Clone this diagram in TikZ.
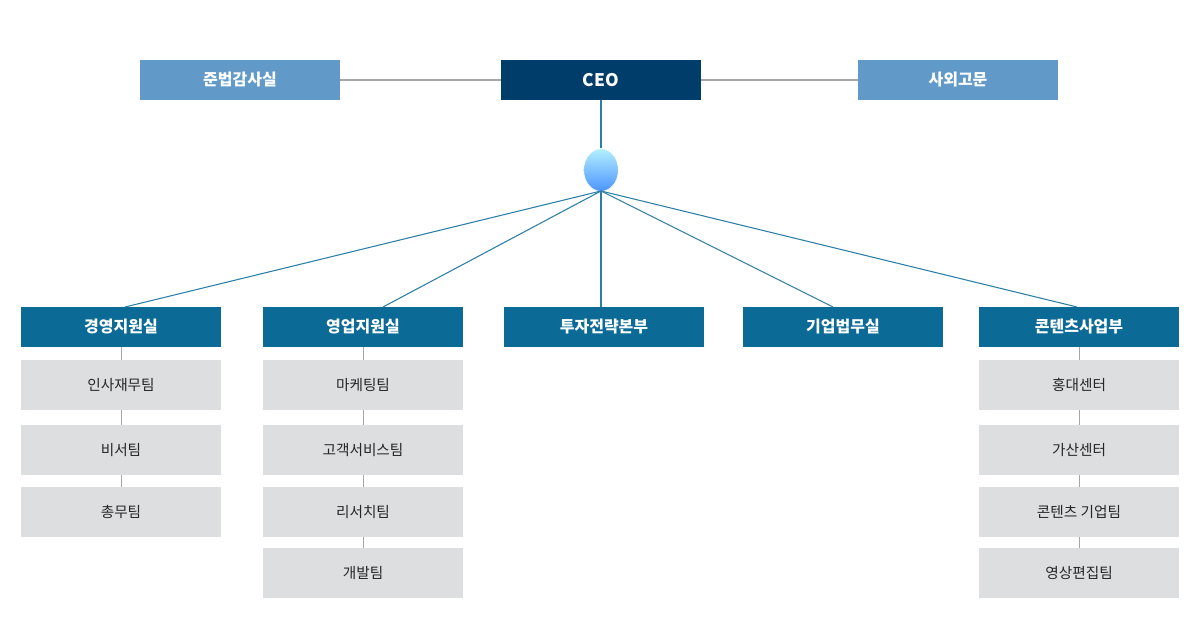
\documentclass[tikz,border=0pt]{standalone}
\usepackage{fontspec}
\setmainfont{Noto Sans CJK KR}
\usetikzlibrary{shapes.geometric}
\definecolor{lb}{HTML}{6199C9}
\definecolor{navy}{HTML}{003D6B}
\definecolor{teal}{HTML}{0B6A96}
\definecolor{gr}{HTML}{DCDEE0}
\definecolor{ln}{HTML}{2B7FA6}
\begin{document}
\begin{tikzpicture}[x=0.75pt,y=-0.75pt,
  top/.style={fill=lb,minimum width=150pt,minimum height=30pt,inner sep=0pt,text=white,font=\bfseries\fontsize{12}{12}\selectfont},
  dept/.style={fill=teal,minimum width=150pt,minimum height=30pt,inner sep=0pt,text=white,font=\bfseries\fontsize{12}{12}\selectfont},
  sub/.style={fill=gr,minimum width=150pt,minimum height=37.5pt,inner sep=0pt,text=black!85,font=\fontsize{11}{11}\selectfont},
  con/.style={ln,line width=0.8pt},
  vc/.style={gray!70,line width=0.6pt}]
\useasboundingbox (0,0) rectangle (1200,638);
\node[top] (jb) at (240,80) {준법감사실};
\node[top,fill=navy,font=\bfseries\fontsize{13}{13}\selectfont] (ceo) at (601,80) {CEO};
\node[top] (sw) at (958,80) {사외고문};
\draw[gray!70,line width=0.8pt] (jb) -- (ceo) -- (sw);
\node[ellipse,minimum width=26pt,minimum height=32pt,inner sep=0pt,top color=blue!20!cyan!30,bottom color=blue!60!cyan!70,draw=white] (hub) at (601,170) {};
\draw[con] (ceo) -- (hub);
\coordinate (hb) at (601,191);
\foreach \n/\x/\t/\tx in {d1/121/경영지원실/125, d2/363/영업지원실/383, d3/604/투자전략본부/601, d4/843/기업법무실/833, d5/1079/콘텐츠사업부/1077}{
  \node[dept] (\n) at (\x,327) {\t};
  \coordinate (\n t) at (\tx,307);
  \draw[con] (hb) -- (\n t);
}
\foreach \n/\x/\list in {d1/121/{인사재무팀,비서팀,총무팀}, d2/363/{마케팅팀,고객서비스팀,리서치팀,개발팀}, d5/1079/{홍대센터,가산센터,콘텐츠 기업팀,영상편집팀}}{
  \foreach \t [count=\i] in \list {
    \pgfmathsetmacro{\yy}{ifthenelse(\i==1,385,ifthenelse(\i==2,450,ifthenelse(\i==3,512,573)))}
    \node[sub] (\n s\i) at (\x,\yy) {\t};
  }
}
\foreach \n/\k in {d1/3,d2/4,d5/4}{
  \draw[vc] (\n) -- (\n s1);
  \foreach \i [evaluate=\i as \j using int(\i+1)] in {1,...,\numexpr\k-1}{
    \draw[vc] (\n s\i) -- (\n s\j);
  }
}
\end{tikzpicture}
\end{document}
